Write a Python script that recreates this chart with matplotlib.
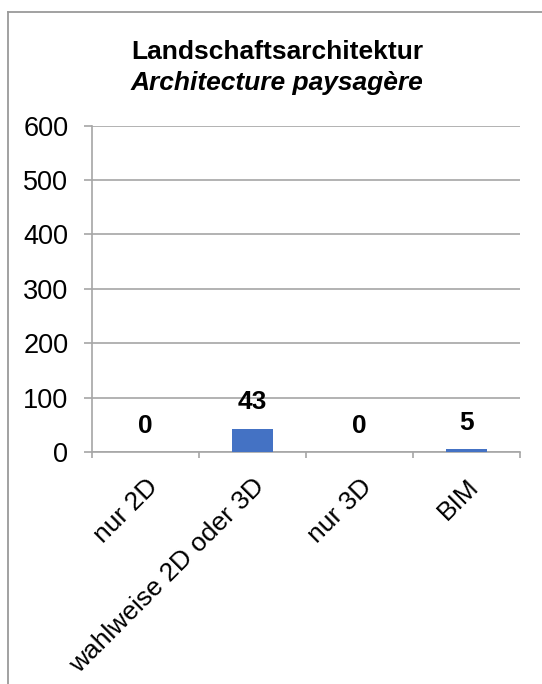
import matplotlib
matplotlib.use("Agg")
import matplotlib.pyplot as plt
from matplotlib.lines import Line2D
import numpy as np

plt.rcParams['font.family'] = ['Liberation Sans', 'DejaVu Sans']

categories = ["nur 2D", "wahlweise 2D oder 3D", "nur 3D", "BIM"]
values = [0, 43, 0, 5]
y_ticks = [0, 100, 200, 300, 400, 500, 600]
title_de = "Landschaftsarchitektur"
title_fr = "Architecture paysagère"

W, H = 542, 684
fig = plt.figure(figsize=(W / 100, H / 100), dpi=100)

# outer chart border (partially visible)
bx, by = 7.5 / W, 1 - 12 / H
border_col = '#9a9a9a'
fig.add_artist(Line2D([bx, bx], [0, by], transform=fig.transFigure, color=border_col, lw=1.3))
fig.add_artist(Line2D([bx, 1], [by, by], transform=fig.transFigure, color=border_col, lw=1.3))

ax = fig.add_axes([92 / W, 1 - 452 / H, (520 - 92) / W, (452 - 125.7) / H])
x = np.arange(len(categories))
bars = ax.bar(x, values, width=0.39, color='#4472C4', zorder=3)

ax.set_xlim(-0.5, len(categories) - 0.5)
ax.set_ylim(0, 600)
ax.set_yticks(y_ticks)
ax.set_yticklabels([str(v) for v in y_ticks], fontsize=19.5)

grid_col = '#a6a6a6'
ax.yaxis.grid(True, color=grid_col, lw=1.2, zorder=0)
for s in ['top', 'right']:
    ax.spines[s].set_visible(False)
for s in ['left', 'bottom']:
    ax.spines[s].set_color(grid_col)
    ax.spines[s].set_linewidth(1.2)

ax.tick_params(axis='y', length=6, width=1.2, color=grid_col, pad=11)
ax.set_xticks(x)
ax.set_xticklabels(categories, rotation=45, ha='right', rotation_mode='anchor', fontsize=19)
ax.tick_params(axis='x', which='major', length=0, pad=16)
ax.set_xticks(np.arange(-0.5, len(categories)), minor=True)
ax.tick_params(axis='x', which='minor', length=4, width=1.2, color=grid_col)

for xi, v in zip(x, values):
    ax.annotate(str(v), (xi, v), xytext=(0, 19), textcoords='offset points',
                ha='center', va='center', fontsize=19, fontweight='bold')

fig.text(277 / W, 1 - 52 / H, title_de, ha='center', va='center', fontsize=19, fontweight='bold')
fig.text(277 / W, 1 - 83 / H, title_fr, ha='center', va='center', fontsize=19, fontweight='bold', style='italic')

fig.savefig('out.png', dpi=100)
